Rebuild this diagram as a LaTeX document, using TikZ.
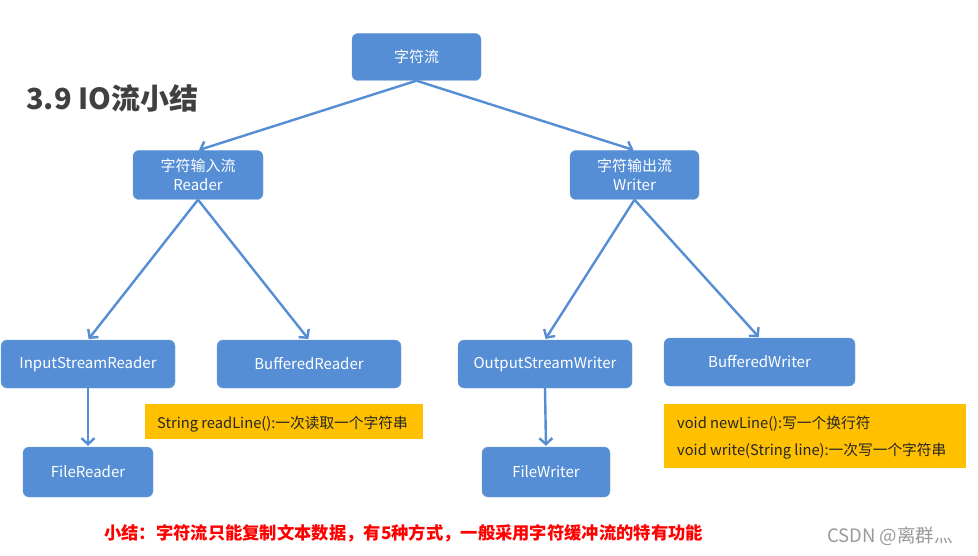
\documentclass[tikz,border=0pt]{standalone}
\usepackage{fontspec}
\setmainfont{Noto Sans CJK SC}
\usetikzlibrary{arrows.meta}
\definecolor{boxblue}{RGB}{85,142,213}
\definecolor{noteyellow}{RGB}{255,192,0}
\definecolor{titlegray}{RGB}{64,64,64}
\definecolor{redtext}{RGB}{255,0,0}
\tikzset{
  bluebox/.style={fill=boxblue, draw=boxblue!85!white, rounded corners=6pt, text=white, font=\fontsize{15}{19}\selectfont, align=center, inner sep=0pt},
  notetext/.style={anchor=west, text=black!85, font=\fontsize{14.7}{16}\selectfont, inner sep=0pt},
  link/.style={draw=boxblue, line width=2.4pt, -{Straight Barb[length=6pt,width=13pt,line width=2.4pt]}, shorten >=1pt}
}
\begin{document}
\begin{tikzpicture}[x=1pt,y=-1pt]
\useasboundingbox (0,0) rectangle (978,556);
\fill[white] (0,0) rectangle (978,556);
% title
\node[anchor=west, font=\fontsize{29}{32}\selectfont\bfseries, text=titlegray, inner sep=0pt] (title) at (26,98) {3.9 IO流小结};
% boxes
\node[bluebox, minimum width=129pt, minimum height=47pt] (root) at (416.5,57) {字符流};
\node[bluebox, minimum width=130pt, minimum height=49pt] (reader) at (198,175) {字符输入流\\Reader};
\node[bluebox, minimum width=129pt, minimum height=49pt] (writer) at (634.5,175) {字符输出流\\Writer};
\node[bluebox, minimum width=174pt, minimum height=48pt] (isr) at (88,364) {InputStreamReader};
\node[bluebox, minimum width=184pt, minimum height=48pt] (br) at (309,364) {BufferedReader};
\node[bluebox, minimum width=174pt, minimum height=48pt] (osw) at (545,364) {OutputStreamWriter};
\node[bluebox, minimum width=191pt, minimum height=48pt] (bw) at (759.5,362) {BufferedWriter};
\node[bluebox, minimum width=130pt, minimum height=50pt] (fr) at (88,472) {FileReader};
\node[bluebox, minimum width=128pt, minimum height=50pt] (fw) at (546,472) {FileWriter};
% notes
\node[fill=noteyellow, minimum width=278pt, minimum height=35pt, inner sep=0pt] (note1) at (284,421.5) {};
\node[notetext] (note1t) at (157,424) {String readLine():一次读取一个字符串};
\node[fill=noteyellow, minimum width=302pt, minimum height=64pt, inner sep=0pt] (note2) at (815,436) {};
\node[notetext] (note2a) at (677,424) {void newLine():写一个换行符};
\node[notetext] (note2b) at (677,451) {void write(String line):一次写一个字符串};
% arrows
\draw[link] (root.south) -- (reader.north);
\draw[link] (root.south) -- (writer.north);
\draw[link] (reader.south) -- (isr.north);
\draw[link] (reader.south) -- (br.north);
\draw[link] (writer.south) -- (osw.north);
\draw[link] (writer.south) -- (bw.north);
\draw[link] (isr.south) -- (fr.north);
\draw[link] (osw.south) -- (fw.north);
% summary
\node[anchor=west, text=redtext, font=\fontsize{17.3}{20}\selectfont\bfseries, inner sep=0pt] (summary) at (104,533) {小结：字符流只能复制文本数据，有5种方式，一般采用字符缓冲流的特有功能};
\node[anchor=west, text=black!40, font=\fontsize{18.5}{20}\selectfont, inner sep=0pt] (mark) at (827,536) {CSDN @离群灬};
\end{tikzpicture}
\end{document}
